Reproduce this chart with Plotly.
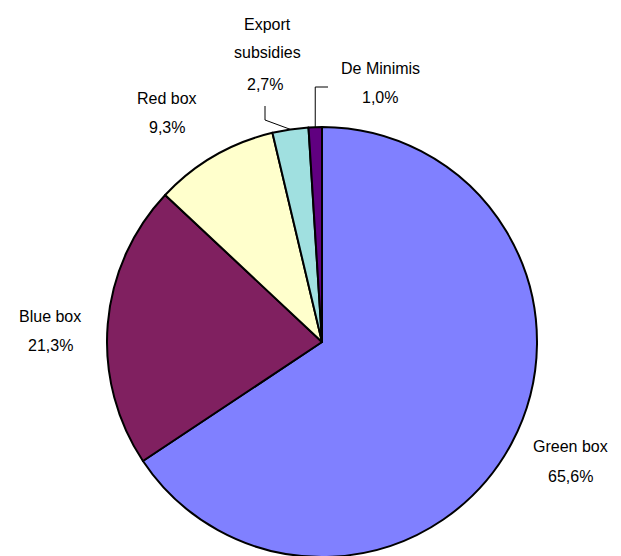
import math
import plotly.graph_objects as go

# ---- data ----
categories = ["Green box", "Blue box", "Red box", "Export subsidies", "De Minimis"]
values = [65.6, 21.3, 9.3, 2.7, 1.0]
value_labels = ["65,6%", "21,3%", "9,3%", "2,7%", "1,0%"]
colors = ["#8080FF", "#802060", "#FFFFCC", "#A0E0E0", "#600080"]

W, H = 621, 556
OFF = 8  # page body margin offset
CX, CY, R = 322 - OFF, 342 - OFF, 215  # pie centre / radius in px (layout)

fig = go.Figure(go.Pie(
    labels=categories,
    values=values,
    sort=False,
    direction="clockwise",
    rotation=0,
    marker=dict(colors=colors, line=dict(color="black", width=2)),
    textinfo="none",
    hoverinfo="label+percent",
    showlegend=False,
    domain=dict(x=[(CX - R) / W, (CX + R) / W], y=[(H - CY - R) / H, (H - CY + R) / H]),
))

def px(x, y):
    # reference screen px -> paper coords
    return (x - OFF) / W, 1 - (y - OFF) / H

font = dict(family="Liberation Sans, Arial, sans-serif", size=16, color="black")

# label line positions (reference px): list of (text, x, y)
label_lines = [
    (categories[0], 570, 446), (value_labels[0], 570, 476),
    (categories[1], 50, 316), (value_labels[1], 50, 345),
    (categories[2], 167, 99), (value_labels[2], 167, 127),
    ("Export", 267, 24), ("subsidies", 267, 53), (value_labels[3], 265, 84),
    (categories[4], 380, 68), (value_labels[4], 380, 97),
]
annotations = []
for t, x, y in label_lines:
    ax, ay = px(x, y)
    annotations.append(dict(text=t, x=ax, y=ay, xref="paper", yref="paper",
                            showarrow=False, font=font, xanchor="center", yanchor="middle"))

# leader lines computed from slice mid-angles
total = sum(values)
cum = 0
mids = []
for v in values:
    mids.append((cum + v / 2) / total * 2 * math.pi)
    cum += v

def edge(i):
    a = mids[i]
    # returned in reference px
    return CX + OFF + R * math.sin(a), CY + OFF - R * math.cos(a)

def path_of(pts):
    return "M " + " L ".join(f"{px(x, y)[0]},{px(x, y)[1]}" for x, y in pts)

shapes = []
ex, ey = edge(3)
shapes.append(dict(type="path", path=path_of([(265, 106), (265, 120), (ex, ey)]),
                   xref="paper", yref="paper", line=dict(color="black", width=1)))
dx, dy = edge(4)
shapes.append(dict(type="path", path=path_of([(328, 87), (dx, 87), (dx, dy)]),
                   xref="paper", yref="paper", line=dict(color="black", width=1)))

fig.update_layout(
    width=W, height=H,
    margin=dict(l=0, r=0, t=0, b=0),
    paper_bgcolor="white", plot_bgcolor="white",
    annotations=annotations, shapes=shapes,
)

fig.write_html("out.html")
